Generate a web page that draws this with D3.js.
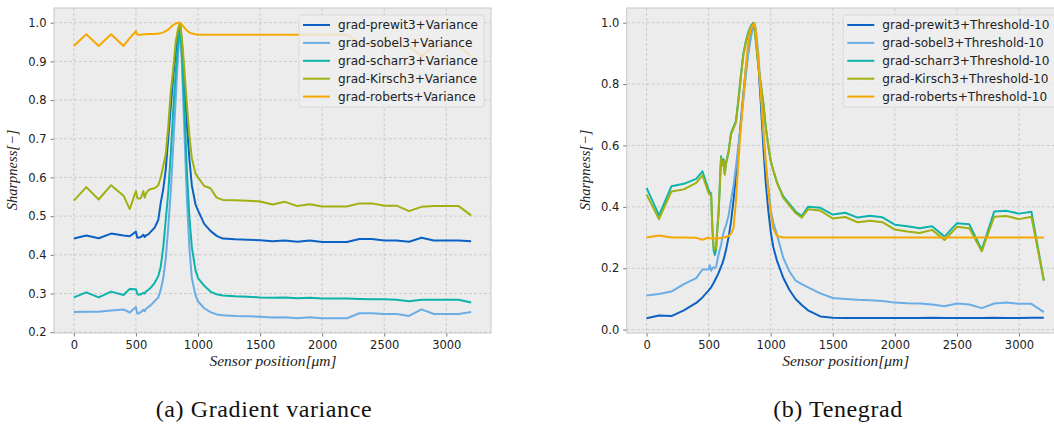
<!DOCTYPE html>
<html><head><meta charset="utf-8">
<script src="https://cdn.jsdelivr.net/npm/d3@7"></script>
<style>
body{margin:0;background:#fff;}
svg{display:block;}
</style></head>
<body>
<svg id="chart" width="1054" height="428"></svg>
<script>
// ---------- DATA ----------
const seriesNames = ["grad-prewit3", "grad-sobel3", "grad-scharr3", "grad-Kirsch3", "grad-roberts"];
const xTicks = [0, 500, 1000, 1500, 2000, 2500, 3000];
const yTicksA = [0.2, 0.3, 0.4, 0.5, 0.6, 0.7, 0.8, 0.9, 1.0];
const yTicksB = [0.0, 0.2, 0.4, 0.6, 0.8, 1.0];

// (a) Gradient variance
const posA = [0,100,200,300,400,450,500,510,520,540,560,570,580,600,620,650,680,700,720,740,760,780,800,820,840,855,870,890,910,930,950,980,1000,1050,1100,1150,1200,1300,1400,1500,1600,1700,1800,1900,2000,2100,2200,2300,2400,2500,2600,2700,2800,2900,3000,3100,3200];
const prewittA = [0.442,0.450,0.443,0.455,0.450,0.448,0.460,0.445,0.444,0.446,0.452,0.446,0.450,0.453,0.460,0.470,0.490,0.535,0.570,0.620,0.700,0.780,0.860,0.920,0.970,0.995,0.950,0.850,0.740,0.650,0.580,0.530,0.515,0.480,0.462,0.449,0.442,0.440,0.439,0.438,0.435,0.437,0.434,0.437,0.433,0.433,0.433,0.441,0.441,0.437,0.437,0.434,0.444,0.437,0.437,0.437,0.435];
const sobelA = [0.252,0.253,0.253,0.256,0.259,0.251,0.265,0.249,0.248,0.252,0.258,0.254,0.260,0.265,0.270,0.280,0.290,0.310,0.340,0.390,0.470,0.560,0.680,0.800,0.920,0.985,0.900,0.720,0.550,0.420,0.340,0.295,0.280,0.262,0.252,0.246,0.244,0.242,0.241,0.240,0.238,0.239,0.236,0.239,0.236,0.236,0.236,0.249,0.249,0.247,0.247,0.242,0.259,0.247,0.247,0.247,0.252];
const scharrA = [0.290,0.303,0.290,0.305,0.296,0.312,0.311,0.300,0.297,0.298,0.302,0.300,0.305,0.310,0.315,0.327,0.345,0.370,0.420,0.490,0.560,0.660,0.770,0.870,0.950,0.990,0.920,0.780,0.620,0.500,0.420,0.360,0.340,0.320,0.305,0.298,0.295,0.293,0.292,0.290,0.289,0.290,0.288,0.289,0.287,0.287,0.287,0.286,0.285,0.285,0.284,0.280,0.284,0.284,0.284,0.284,0.277];
const kirschA = [0.540,0.575,0.543,0.580,0.553,0.518,0.565,0.548,0.545,0.547,0.565,0.548,0.558,0.567,0.570,0.572,0.580,0.600,0.630,0.660,0.730,0.820,0.880,0.950,0.985,1.000,0.960,0.880,0.790,0.710,0.650,0.610,0.600,0.578,0.572,0.548,0.542,0.541,0.540,0.538,0.530,0.537,0.526,0.531,0.525,0.525,0.525,0.533,0.533,0.527,0.527,0.513,0.524,0.526,0.526,0.526,0.502];
const robertsA = [0.940,0.970,0.940,0.970,0.940,0.960,0.978,0.970,0.969,0.969,0.970,0.970,0.970,0.971,0.971,0.971,0.972,0.973,0.975,0.978,0.982,0.988,0.994,0.998,1.000,1.000,0.995,0.987,0.980,0.975,0.972,0.970,0.969,0.969,0.969,0.969,0.969,0.969,0.969,0.969,0.969,0.969,0.969,0.969,0.969,0.969,0.969,0.947,0.940,0.940,0.940,0.940,0.913,0.940,0.940,0.940,0.913];

// (b) Tenegrad
const posB = [0,100,200,300,400,450,500,510,520,530,540,550,560,570,580,590,600,610,620,630,640,660,680,700,720,740,760,780,800,820,840,860,870,880,900,920,940,960,980,1000,1020,1050,1100,1150,1200,1250,1300,1400,1500,1600,1700,1800,1900,2000,2100,2200,2300,2400,2500,2600,2700,2800,2900,3000,3100,3200];
const prewittB = [0.037,0.046,0.044,0.063,0.087,0.105,0.128,0.133,0.138,0.145,0.152,0.160,0.168,0.176,0.185,0.195,0.205,0.215,0.228,0.243,0.260,0.300,0.350,0.420,0.500,0.590,0.680,0.770,0.850,0.910,0.960,0.990,0.990,0.960,0.870,0.740,0.600,0.480,0.390,0.320,0.270,0.225,0.170,0.130,0.100,0.080,0.063,0.043,0.039,0.038,0.038,0.038,0.038,0.038,0.038,0.038,0.039,0.038,0.038,0.038,0.038,0.039,0.038,0.038,0.039,0.039];
const sobelB = [0.111,0.116,0.124,0.148,0.168,0.196,0.197,0.210,0.192,0.200,0.203,0.200,0.205,0.225,0.245,0.260,0.275,0.300,0.315,0.330,0.340,0.370,0.420,0.470,0.530,0.600,0.670,0.750,0.830,0.900,0.950,0.990,0.995,0.980,0.900,0.780,0.640,0.540,0.470,0.390,0.350,0.310,0.235,0.190,0.160,0.148,0.138,0.118,0.103,0.100,0.097,0.096,0.093,0.088,0.086,0.085,0.082,0.076,0.085,0.082,0.070,0.085,0.088,0.084,0.084,0.057];
const scharrB = [0.462,0.372,0.467,0.475,0.491,0.516,0.455,0.447,0.444,0.330,0.260,0.243,0.260,0.330,0.380,0.470,0.565,0.540,0.555,0.510,0.545,0.580,0.640,0.660,0.680,0.750,0.830,0.900,0.940,0.970,0.990,1.000,0.980,0.940,0.860,0.800,0.740,0.660,0.600,0.550,0.520,0.480,0.435,0.410,0.385,0.370,0.400,0.397,0.375,0.381,0.365,0.371,0.366,0.342,0.337,0.330,0.337,0.303,0.347,0.343,0.260,0.385,0.387,0.378,0.384,0.160];
const kirschB = [0.440,0.360,0.450,0.457,0.478,0.503,0.445,0.440,0.440,0.330,0.270,0.260,0.265,0.330,0.380,0.470,0.560,0.535,0.550,0.505,0.540,0.575,0.635,0.655,0.675,0.745,0.825,0.895,0.935,0.965,0.985,0.995,0.980,0.945,0.860,0.800,0.740,0.660,0.600,0.550,0.520,0.480,0.430,0.405,0.380,0.365,0.392,0.388,0.362,0.367,0.350,0.355,0.350,0.326,0.320,0.315,0.325,0.292,0.335,0.330,0.255,0.368,0.370,0.360,0.368,0.160];
const robertsB = [0.300,0.307,0.300,0.300,0.299,0.293,0.300,0.298,0.297,0.297,0.297,0.297,0.297,0.298,0.298,0.298,0.299,0.300,0.300,0.301,0.302,0.305,0.312,0.330,0.420,0.550,0.660,0.760,0.860,0.940,0.980,0.995,1.000,0.970,0.880,0.770,0.660,0.550,0.450,0.380,0.330,0.305,0.300,0.300,0.300,0.300,0.300,0.300,0.300,0.300,0.300,0.300,0.300,0.300,0.300,0.300,0.300,0.300,0.300,0.300,0.300,0.300,0.300,0.300,0.300,0.300];

const colors = ["#0b62c4", "#6aade6", "#0db3aa", "#a0b010", "#f5a800"];

// ---------- DRAW ----------
const svg = d3.select("#chart");

function panel(cfg) {
  const g = svg.append("g");
  const x = d3.scaleLinear().domain([-160, 3360]).range([cfg.left, cfg.left + 437]);
  const y = d3.scaleLinear().domain(cfg.yDomain).range([333, 8]);
  const clipId = "clip" + cfg.id;
  svg.append("clipPath").attr("id", clipId).append("rect")
    .attr("x", cfg.left).attr("y", 8).attr("width", 437).attr("height", 325);

  g.append("rect").attr("x", cfg.left).attr("y", 8).attr("width", 437).attr("height", 325)
    .attr("fill", "#ececec");

  // grid
  g.append("g").selectAll("line").data(xTicks).join("line")
    .attr("x1", d => x(d)).attr("x2", d => x(d)).attr("y1", 8).attr("y2", 333)
    .attr("stroke", "#c4c4c4").attr("stroke-width", 0.8).attr("stroke-dasharray", "3,2");
  g.append("g").selectAll("line").data(cfg.yTicks).join("line")
    .attr("x1", cfg.left).attr("x2", cfg.left + 437).attr("y1", d => y(d)).attr("y2", d => y(d))
    .attr("stroke", "#c4c4c4").attr("stroke-width", 0.8).attr("stroke-dasharray", "3,2");

  // axes
  const xa = g.append("g").attr("transform", "translate(0,333)")
    .call(d3.axisBottom(x).tickValues(xTicks).tickSize(3.5).tickPadding(4).tickFormat(d3.format("d")));
  const ya = g.append("g").attr("transform", `translate(${cfg.left},0)`)
    .call(d3.axisLeft(y).tickValues(cfg.yTicks).tickSize(3.5).tickPadding(4).tickFormat(d3.format(".1f")));
  [xa, ya].forEach(a => {
    a.select(".domain").remove();
    a.selectAll(".tick line").attr("stroke", "#555").attr("stroke-width", 0.8);
    a.selectAll("text").attr("font-family", "DejaVu Sans").attr("font-size", 11.5).attr("fill", "#222");
  });

  // lines
  const line = d3.line().x(d => x(d[0])).y(d => y(d[1]));
  const lg = g.append("g").attr("clip-path", `url(#${clipId})`);
  cfg.series.forEach((vals, i) => {
    lg.append("path").datum(cfg.pos.map((p, j) => [p, vals[j]]))
      .attr("d", line).attr("fill", "none").attr("stroke", colors[i])
      .attr("stroke-width", 2).attr("stroke-linejoin", "round");
  });

  // frame
  g.append("rect").attr("x", cfg.left).attr("y", 8).attr("width", 437).attr("height", 325)
    .attr("fill", "none").attr("stroke", "#c8c8c8").attr("stroke-width", 1);

  // legend
  const lgX = cfg.legendX, lgY = 15;
  const leg = g.append("g");
  leg.append("rect").attr("x", lgX).attr("y", lgY).attr("width", cfg.legendW).attr("height", 92)
    .attr("rx", 2).attr("fill", "rgba(238,238,238,0.82)").attr("stroke", "#d6d6d6").attr("stroke-width", 0.8);
  seriesNames.forEach((n, i) => {
    const yy = lgY + 10 + i * 17.9;
    leg.append("line").attr("x1", lgX + 4).attr("x2", lgX + 31).attr("y1", yy).attr("y2", yy)
      .attr("stroke", colors[i]).attr("stroke-width", 2);
    leg.append("text").attr("x", lgX + 39).attr("y", yy + 4.3)
      .attr("font-family", "DejaVu Sans").attr("font-size", 12.1).attr("fill", "#222")
      .text(n + cfg.suffix);
  });

  // axis labels
  g.append("text").attr("x", cfg.left + 219).attr("y", 366).attr("text-anchor", "middle")
    .attr("font-family", "Liberation Serif").attr("font-style", "italic").attr("font-size", 15.5)
    .attr("fill", "#222").text("Sensor position[μm]");
  g.append("text").attr("transform", `translate(${cfg.left - 37},170) rotate(-90)`)
    .attr("text-anchor", "middle")
    .attr("font-family", "Liberation Serif").attr("font-style", "italic").attr("font-size", 14.5)
    .attr("fill", "#222").text("Sharpness[−]");

  // caption
  g.append("text").attr("x", cfg.captionX).attr("y", 417).attr("text-anchor", "middle")
    .attr("font-family", "Liberation Serif").attr("font-size", 24).attr("letter-spacing", 0.6)
    .attr("fill", "#111")
    .text(cfg.caption);
}

panel({id: "A", left: 54, yDomain: [0.198, 1.038], yTicks: yTicksA, pos: posA,
  series: [prewittA, sobelA, scharrA, kirschA, robertsA], suffix: "+Variance",
  legendX: 299, legendW: 185, caption: "(a) Gradient variance", captionX: 264});
panel({id: "B", left: 626.7, yDomain: [-0.011, 1.048], yTicks: yTicksB, pos: posB,
  series: [prewittB, sobelB, scharrB, kirschB, robertsB], suffix: "+Threshold-10",
  legendX: 843.3, legendW: 220, caption: "(b) Tenegrad", captionX: 838});
</script>
</body></html>
